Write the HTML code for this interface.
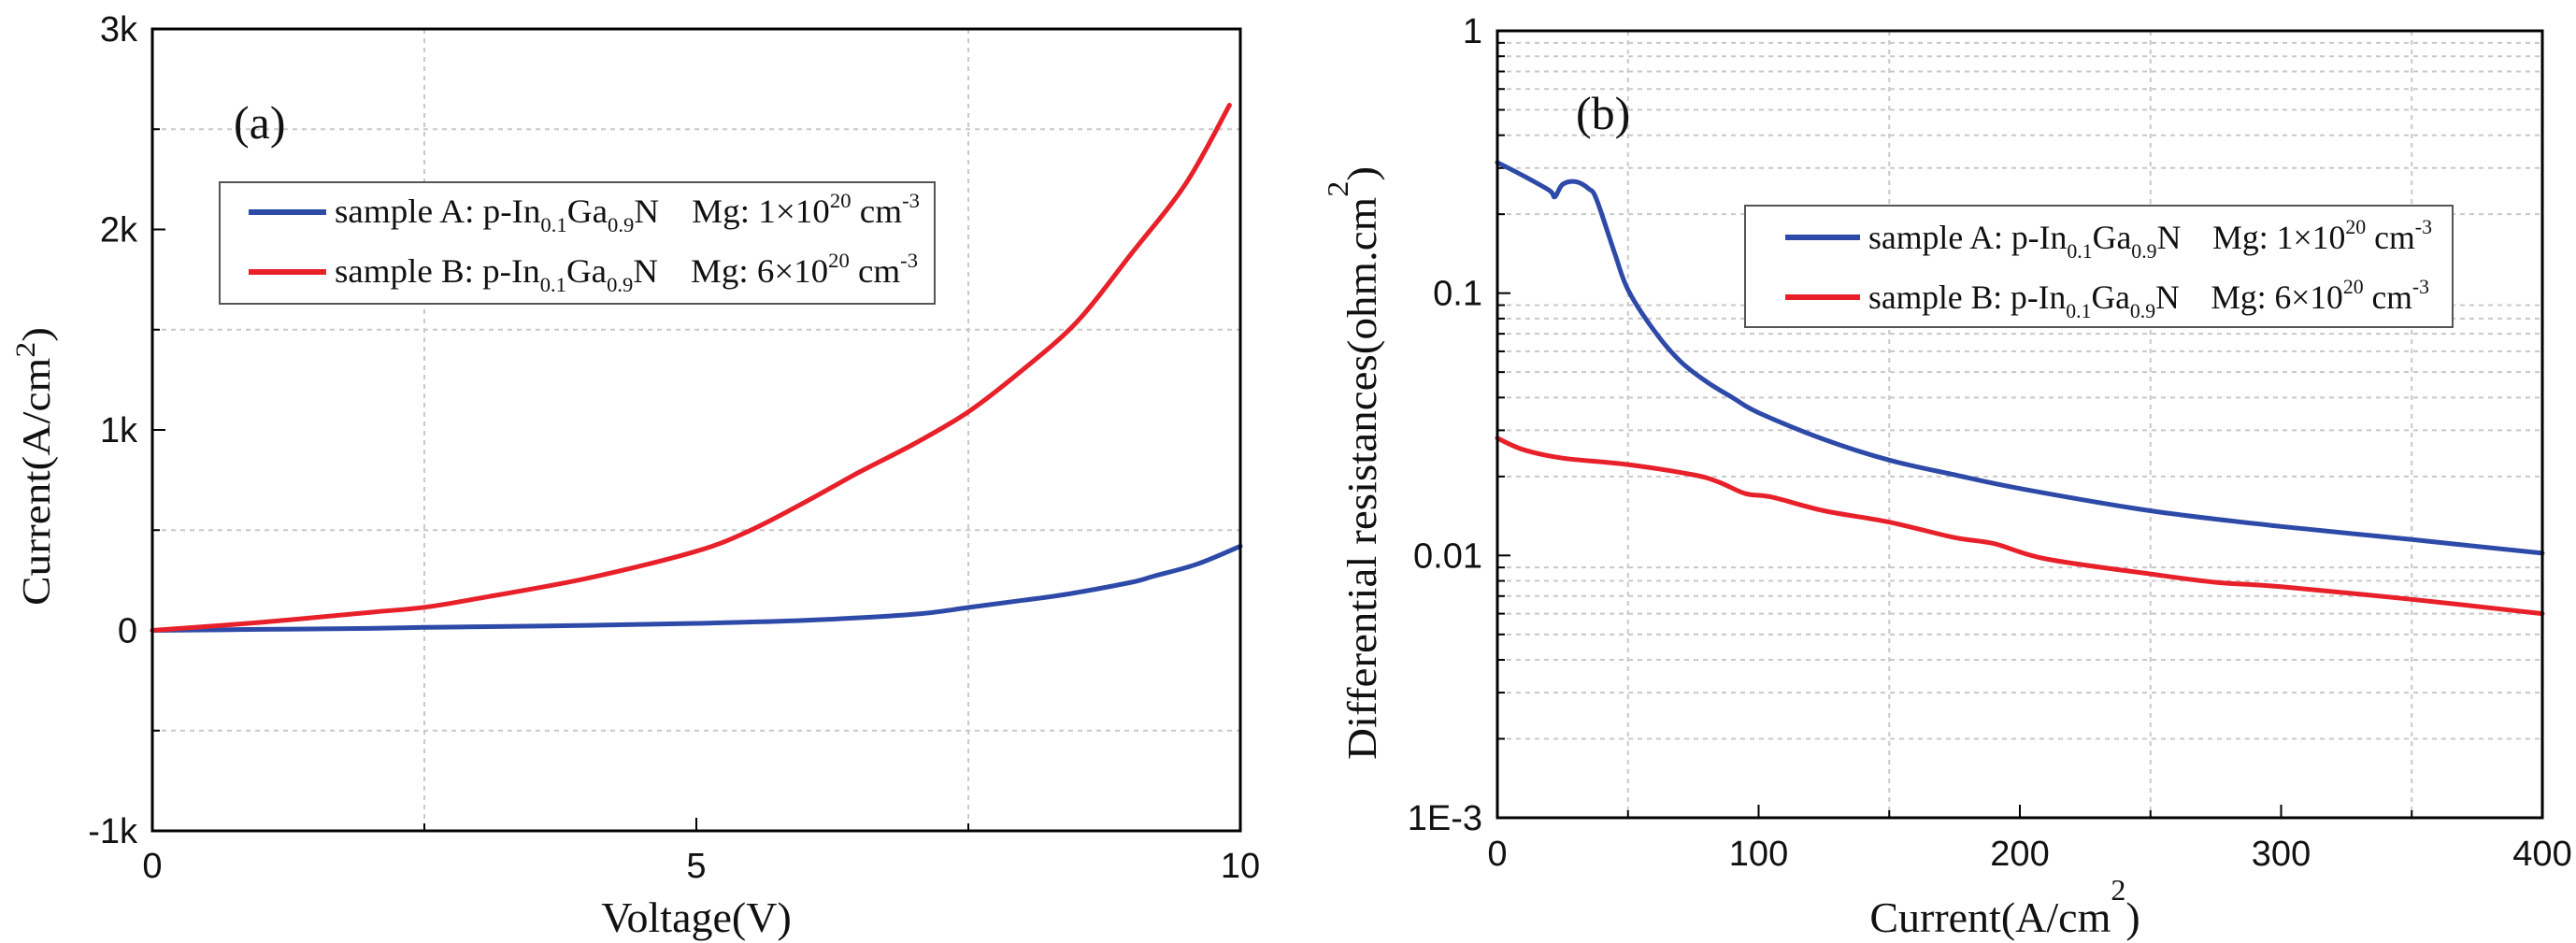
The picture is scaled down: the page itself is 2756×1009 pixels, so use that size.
<!DOCTYPE html>
<html><head><meta charset="utf-8"><style>
html,body{margin:0;padding:0;background:#fff;}
svg{display:block;}
.tick{font-family:"Liberation Sans",Arial,sans-serif;font-size:38px;fill:#111;}
.ser{font-family:"Liberation Serif","Times New Roman",serif;fill:#111;}
</style></head><body>
<svg id="fig" width="2756" height="1009" viewBox="0 0 2756 1009" xmlns="http://www.w3.org/2000/svg">
<g id="pa"></g>
<g id="pb"></g>
</svg>
<script>
// ---- Panel (a) data ----
const aVoltage = [0,1,2,2.5,3,4,5,5.5,6,6.5,7,7.5,8,8.5,9,9.5,9.9];
const aSampleB = [0,40,90,115,160,260,395,500,640,790,930,1090,1300,1540,1880,2230,2620];
const aVoltageA = [0,1,2,2.5,3,4,5,6,7,7.5,8,8.4,9,9.2,9.6,10];
const aSampleA = [0,5,10,15,18,25,35,50,80,114,150,180,240,270,330,420];
const aXTicks = [0,5,10];
const aXTickLabels = ["0","5","10"];
const aYTicks = [-1000,0,1000,2000,3000];
const aYTickLabels = ["-1k","0","1k","2k","3k"];
// ---- Panel (b) data ----
const bCurrentA = [0,10,20,22,25,30,35,38,45,50,60,70,80,90,100,125,150,175,200,250,300,350,400];
const bSampleA = [0.315,0.28,0.246,0.233,0.26,0.266,0.25,0.227,0.141,0.103,0.072,0.055,0.046,0.04,0.035,0.0277,0.0231,0.0203,0.018,0.0148,0.0129,0.0115,0.0102];
const bCurrentB = [0,10,25,50,75,85,95,105,125,150,175,190,210,250,275,300,350,400];
const bSampleB = [0.028,0.0253,0.0235,0.0222,0.0203,0.019,0.0172,0.0167,0.0148,0.0134,0.0117,0.0111,0.0097,0.0085,0.0079,0.0076,0.0068,0.006];
const bXTicks = [0,100,200,300,400];
const bXTickLabels = ["0","100","200","300","400"];
const bYTicks = [0.001,0.01,0.1,1];
const bYTickLabels = ["1E-3","0.01","0.1","1"];

const NS="http://www.w3.org/2000/svg";
function mk(parent,tag,attrs){const e=document.createElementNS(NS,tag);for(const k in attrs)e.setAttribute(k,attrs[k]);parent.appendChild(e);return e;}
function line(parent,xs,ys,fx,fy,color,name){
  const P=xs.map((x,i)=>[fx(x),fy(ys[i])]);
  let d='M'+P[0][0].toFixed(1)+','+P[0][1].toFixed(1);
  for(let i=0;i<P.length-1;i++){
    const p0=P[Math.max(0,i-1)],p1=P[i],p2=P[i+1],p3=P[Math.min(P.length-1,i+2)];
    const c1=[p1[0]+(p2[0]-p0[0])/6,p1[1]+(p2[1]-p0[1])/6];
    const c2=[p2[0]-(p3[0]-p1[0])/6,p2[1]-(p3[1]-p1[1])/6];
    d+=' C'+c1[0].toFixed(1)+','+c1[1].toFixed(1)+' '+c2[0].toFixed(1)+','+c2[1].toFixed(1)+' '+p2[0].toFixed(1)+','+p2[1].toFixed(1);
  }
  const p=mk(parent,'path',{d:d,fill:'none',stroke:color,'stroke-width':5,'stroke-linejoin':'round','stroke-linecap':'round'});
  
  
  return p;
}

// ---------- Panel A ----------
const pa=document.getElementById('pa');
const aL=163,aR=1327,aT=31,aB=889;
const ax=v=>aL+(v-0)/(10-0)*(aR-aL);
const ay=v=>aB-(v+1000)/(4000)*(aB-aT);
[2.5,7.5].forEach(v=>{const g=mk(pa,'line',{x1:ax(v),x2:ax(v),y1:aT,y2:aB,stroke:'#c8c8c8','stroke-width':2,'stroke-dasharray':'5,5'});

});
[-500,500,1500,2500].forEach(v=>{const g=mk(pa,'line',{x1:aL,x2:aR,y1:ay(v),y2:ay(v),stroke:'#c8c8c8','stroke-width':2,'stroke-dasharray':'5,5'});

});
[0,2.5,5,7.5,10].forEach(v=>{const t=mk(pa,'line',{x1:ax(v),x2:ax(v),y1:aB,y2:aB-(v%5===0?14:8),stroke:'#000','stroke-width':2});

});
[-1000,-500,0,500,1000,1500,2000,2500,3000].forEach(v=>{const t=mk(pa,'line',{x1:aL,x2:aL+(v%1000===0?14:8),y1:ay(v),y2:ay(v),stroke:'#000','stroke-width':2});

});
aXTicks.forEach((v,i)=>{const t=mk(pa,'text',{x:ax(v),y:939,'text-anchor':'middle',class:'tick'});t.textContent=aXTickLabels[i];

});
aYTicks.forEach((v,i)=>{const t=mk(pa,'text',{x:147,y:ay(v)+13,'text-anchor':'end',class:'tick'});t.textContent=aYTickLabels[i];

});
line(pa,aVoltageA,aSampleA,ax,ay,'#2e4aa8','series-sample-a');
line(pa,aVoltage,aSampleB,ax,ay,'#e8202a','series-sample-b');
const aframe=mk(pa,'rect',{x:aL,y:aT,width:aR-aL,height:aB-aT,fill:'none',stroke:'#000','stroke-width':3});



// ---------- Panel B ----------
const pb=document.getElementById('pb');
const bL=1602,bR=2720,bT=33,bB=875;
const bx=v=>bL+v/400*(bR-bL);
const by=v=>bB-(Math.log10(v)+3)/3*(bB-bT);
[50,150,250,350].forEach(v=>{const g=mk(pb,'line',{x1:bx(v),x2:bx(v),y1:bT,y2:bB,stroke:'#c8c8c8','stroke-width':2,'stroke-dasharray':'5,5'});

});
[0.001,0.01,0.1].forEach(d=>{for(let m=2;m<=9;m++){const v=d*m;
const g=mk(pb,'line',{x1:bL,x2:bR,y1:by(v),y2:by(v),stroke:'#c8c8c8','stroke-width':2,'stroke-dasharray':'5,5'});


const t=mk(pb,'line',{x1:bL,x2:bL+8,y1:by(v),y2:by(v),stroke:'#000','stroke-width':2});

}});
[0,50,100,150,200,250,300,350,400].forEach(v=>{const t=mk(pb,'line',{x1:bx(v),x2:bx(v),y1:bB,y2:bB-(v%100===0?14:8),stroke:'#000','stroke-width':2});

});
bYTicks.forEach(v=>{const t=mk(pb,'line',{x1:bL,x2:bL+14,y1:by(v),y2:by(v),stroke:'#000','stroke-width':2});

});
bXTicks.forEach((v,i)=>{const t=mk(pb,'text',{x:bx(v),y:926,'text-anchor':'middle',class:'tick'});t.textContent=bXTickLabels[i];

});
bYTicks.forEach((v,i)=>{const t=mk(pb,'text',{x:1586,y:by(v)+13,'text-anchor':'end',class:'tick'});t.textContent=bYTickLabels[i];

});
line(pb,bCurrentA,bSampleA,bx,by,'#2e4aa8','series-sample-a');
line(pb,bCurrentB,bSampleB,bx,by,'#e8202a','series-sample-b');
const bframe=mk(pb,'rect',{x:bL,y:bT,width:bR-bL,height:bB-bT,fill:'none',stroke:'#000','stroke-width':3});



const fig=document.getElementById('fig');
fig.insertAdjacentHTML('beforeend',`
<g>
 <text class="ser" x="745" y="997" text-anchor="middle" font-size="46">Voltage(V)</text>
 <text class="ser" transform="translate(53,648) rotate(-90)" font-size="42" textLength="298" lengthAdjust="spacingAndGlyphs">Current(A/cm<tspan font-size="30" dy="-16">2</tspan><tspan dy="16">)</tspan></text>
 <text class="ser" x="250" y="148" font-size="50">(a)</text>
 <g>
  <rect x="235" y="195" width="765" height="130" fill="#fff" stroke="#555" stroke-width="2"/>
  <line x1="266" x2="349" y1="227" y2="227" stroke="#2e4aa8" stroke-width="6"/>
  <line x1="266" x2="349" y1="291" y2="291" stroke="#e8202a" stroke-width="6"/>
  <text class="ser" x="358" y="238" font-size="36" textLength="626" lengthAdjust="spacingAndGlyphs">sample A: p-In<tspan font-size="22" dy="10">0.1</tspan><tspan dy="-10">Ga</tspan><tspan font-size="22" dy="10">0.9</tspan><tspan dy="-10">N</tspan><tspan dx="34">Mg: 1×10</tspan><tspan font-size="22" dy="-16">20</tspan><tspan dy="16"> cm</tspan><tspan font-size="22" dy="-16">-3</tspan></text>
  <text class="ser" x="358" y="302" font-size="36" textLength="624" lengthAdjust="spacingAndGlyphs">sample B: p-In<tspan font-size="22" dy="10">0.1</tspan><tspan dy="-10">Ga</tspan><tspan font-size="22" dy="10">0.9</tspan><tspan dy="-10">N</tspan><tspan dx="34">Mg: 6×10</tspan><tspan font-size="22" dy="-16">20</tspan><tspan dy="16"> cm</tspan><tspan font-size="22" dy="-16">-3</tspan></text>
 </g>
</g>
<g>
 <text class="ser" x="2145" y="997" text-anchor="middle" font-size="46">Current(A/cm<tspan font-size="32" dy="-34">2</tspan><tspan dy="34">)</tspan></text>
 <text class="ser" transform="translate(1472,813) rotate(-90)" font-size="44" textLength="635" lengthAdjust="spacingAndGlyphs">Differential resistances(ohm.cm<tspan font-size="32" dy="-30">2</tspan><tspan dy="30">)</tspan></text>
 <text class="ser" x="1686" y="138" font-size="50">(b)</text>
 <g>
  <rect x="1867" y="220" width="757" height="130" fill="#fff" stroke="#555" stroke-width="2"/>
  <line x1="1910" x2="1990" y1="254" y2="254" stroke="#2e4aa8" stroke-width="6"/>
  <line x1="1910" x2="1990" y1="318" y2="318" stroke="#e8202a" stroke-width="6"/>
  <text class="ser" x="1999" y="266" font-size="36" textLength="603" lengthAdjust="spacingAndGlyphs">sample A: p-In<tspan font-size="22" dy="10">0.1</tspan><tspan dy="-10">Ga</tspan><tspan font-size="22" dy="10">0.9</tspan><tspan dy="-10">N</tspan><tspan dx="34">Mg: 1×10</tspan><tspan font-size="22" dy="-16">20</tspan><tspan dy="16"> cm</tspan><tspan font-size="22" dy="-16">-3</tspan></text>
  <text class="ser" x="1999" y="330" font-size="36" textLength="600" lengthAdjust="spacingAndGlyphs">sample B: p-In<tspan font-size="22" dy="10">0.1</tspan><tspan dy="-10">Ga</tspan><tspan font-size="22" dy="10">0.9</tspan><tspan dy="-10">N</tspan><tspan dx="34">Mg: 6×10</tspan><tspan font-size="22" dy="-16">20</tspan><tspan dy="16"> cm</tspan><tspan font-size="22" dy="-16">-3</tspan></text>
 </g>
</g>`);
</script>
</body></html>
